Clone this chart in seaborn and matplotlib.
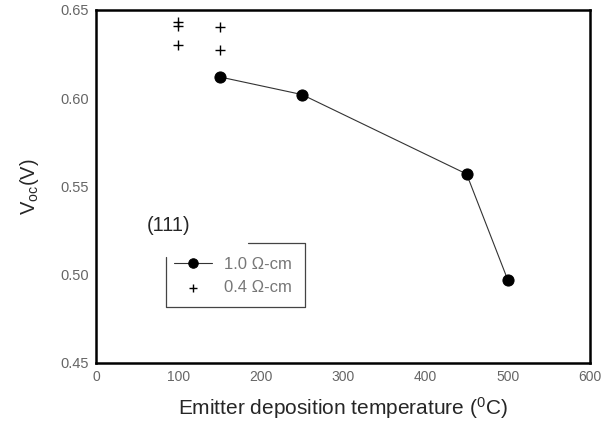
import matplotlib
matplotlib.use('Agg')
import matplotlib.pyplot as plt
import seaborn as sns
import pandas as pd

# 1.0 ohm-cm series (line + filled circles)
temp_10 = [150, 250, 450, 500]
voc_10 = [0.612, 0.602, 0.557, 0.497]

# 0.4 ohm-cm series (plus markers only)
temp_04 = [100, 100, 100, 150, 150]
voc_04 = [0.643, 0.641, 0.630, 0.640, 0.627]

df10 = pd.DataFrame({'T': temp_10, 'Voc': voc_10})
df04 = pd.DataFrame({'T': temp_04, 'Voc': voc_04})

sns.set_style('white')
plt.rcParams['font.family'] = ['Liberation Sans', 'DejaVu Sans']
plt.rcParams['mathtext.fontset'] = 'custom'
plt.rcParams['mathtext.rm'] = 'Liberation Sans'
plt.rcParams['mathtext.it'] = 'Liberation Sans'

fig = plt.figure(figsize=(6.16, 4.26), dpi=100)
ax = fig.add_axes([0.156, 0.148, 0.802, 0.829])

sns.lineplot(data=df10, x='T', y='Voc', ax=ax, color='#333333', linewidth=0.8,
             marker='o', markersize=8, markerfacecolor='black',
             markeredgecolor='black', label='1.0 Ω-cm')
sns.scatterplot(data=df04, x='T', y='Voc', ax=ax, color='black', marker='+',
                s=50, linewidth=1.0, label='0.4 Ω-cm')

ax.set_xlim(0, 600)
ax.set_ylim(0.45, 0.65)
ax.set_xticks([0, 100, 200, 300, 400, 500, 600])
ax.set_yticks([0.45, 0.50, 0.55, 0.60, 0.65])
ax.set_yticklabels(['0.45', '0.50', '0.55', '0.60', '0.65'])
ax.tick_params(direction='in', length=3, width=0.8, colors='black', pad=5)
ax.tick_params(axis='x', labelsize=10)
ax.tick_params(axis='y', labelsize=10.5)
for lbl in ax.get_xticklabels() + ax.get_yticklabels():
    lbl.set_color('#666666')
for s in ax.spines.values():
    s.set_linewidth(1.8)
    s.set_color('black')

ax.set_xlabel('Emitter deposition temperature ($^{0}$C)', fontsize=15, labelpad=8)
ax.set_ylabel('V$_{\\mathrm{oc}}$(V)', fontsize=14.5, labelpad=14)

ax.text(88, 0.528, '(111)', fontsize=14.5, ha='center', va='center')

# legend without its own frame, box drawn around it
leg = ax.legend(loc='upper left', bbox_to_anchor=(0.158, 0.300), frameon=False,
                fontsize=12, handlelength=2.3, handletextpad=0.7, borderpad=0,
                borderaxespad=0, labelspacing=0.5, markerscale=0.85)
for t in leg.get_texts():
    t.set_color('#777777')

box_kw = dict(transform=ax.transAxes, color='#444444', linewidth=0.9, clip_on=False)
ax.plot([0.142, 0.142, 0.423, 0.423, 0.308], [0.300, 0.159, 0.159, 0.340, 0.340], **box_kw)

fig.savefig('out.png', dpi=100)
